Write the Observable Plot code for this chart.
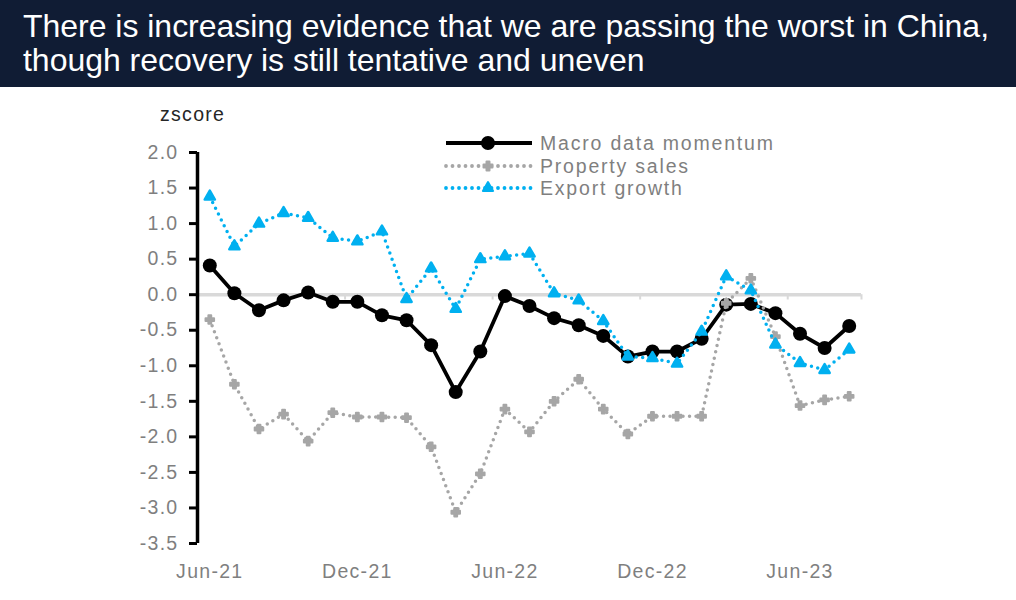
<!DOCTYPE html>
<html><head><meta charset="utf-8">
<script src="https://cdn.jsdelivr.net/npm/d3@7"></script>
<script src="https://cdn.jsdelivr.net/npm/@observablehq/plot@0.6"></script>
<style>
body{margin:0;background:#fff;width:1016px;height:600px;overflow:hidden;position:relative;font-family:"Liberation Sans",Arial,sans-serif;}
#banner{position:absolute;left:0;top:0;width:1016px;height:87px;background:#101c34;}
#title{position:absolute;left:23px;top:9px;color:#fff;font-size:32px;line-height:34px;white-space:nowrap;}
#title span{display:block;}
#chart{position:absolute;left:0;top:87px;}
#zlabel{position:absolute;left:160px;top:104px;font-size:19.5px;line-height:20px;color:#262626;letter-spacing:1.3px;}
#legend{position:absolute;left:440px;top:130px;}
</style>
</head><body>
<div id="banner"><div id="title"><span id="t1">There is increasing evidence that we are passing the worst in China,</span><span id="t2">though recovery is still tentative and uneven</span></div></div>
<div id="zlabel">zscore</div>
<div id="chart"></div>
<div id="legend"></div>
<script>
const months = ["Jun-21","Jul-21","Aug-21","Sep-21","Oct-21","Nov-21","Dec-21","Jan-22","Feb-22","Mar-22","Apr-22","May-22","Jun-22","Jul-22","Aug-22","Sep-22","Oct-22","Nov-22","Dec-22","Jan-23","Feb-23","Mar-23","Apr-23","May-23","Jun-23","Jul-23","Aug-23"];
const macroMomentum = [0.41,0.02,-0.22,-0.08,0.03,-0.10,-0.10,-0.29,-0.36,-0.71,-1.37,-0.80,-0.02,-0.16,-0.33,-0.43,-0.58,-0.87,-0.80,-0.80,-0.62,-0.14,-0.13,-0.26,-0.55,-0.75,-0.44];
const propertySales = [-0.35,-1.26,-1.89,-1.68,-2.06,-1.66,-1.72,-1.72,-1.73,-2.14,-3.06,-2.52,-1.61,-1.93,-1.50,-1.19,-1.61,-1.96,-1.71,-1.71,-1.71,-0.12,0.23,-0.59,-1.56,-1.48,-1.43];
const exportGrowth = [1.38,0.68,1.00,1.15,1.08,0.80,0.75,0.89,-0.06,0.37,-0.20,0.50,0.54,0.58,0.02,-0.08,-0.37,-0.87,-0.89,-0.97,-0.52,0.26,0.06,-0.70,-0.96,-1.06,-0.77];
const xTickLabels = ["Jun-21","Dec-21","Jun-22","Dec-22","Jun-23"];
const yTicks = [2.0,1.5,1.0,0.5,0.0,-0.5,-1.0,-1.5,-2.0,-2.5,-3.0,-3.5];
const seriesNames = ["Macro data momentum","Property sales","Export growth"];
const seriesColors = ["#000000","#a6a6a6","#00b0f0"];

const rows = (vals) => vals.map((v, i) => ({i, month: months[i], v}));
const macroRows = rows(macroMomentum), propRows = rows(propertySales), expRows = rows(exportGrowth);
const xIdx = xTickLabels.map(l => months.indexOf(l));
const boundaries = xIdx.slice(1).map(i => i - 0.5).concat([months.length - 0.5]);
const xMin = -0.5, xMax = months.length - 0.5;

const chart = Plot.plot({
  width: 1016, height: 513,
  marginTop: 65, marginBottom: 57, marginLeft: 197, marginRight: 155,
  style: {fontFamily: '"Liberation Sans", Arial, sans-serif', fontSize: "19.5px", letterSpacing: "1.3px", background: "transparent", overflow: "visible"},
  x: {domain: [xMin, xMax]},
  y: {domain: [d3.min(yTicks), d3.max(yTicks)]},
  marks: [
    Plot.ruleY([0], {x1: xMin, x2: xMax, stroke: "#d9d9d9", strokeWidth: 3.5}),
    Plot.ruleX(boundaries, {y1: 0, y2: -0.075, stroke: "#d9d9d9", strokeWidth: 2}),
    Plot.ruleX([xMin], {y1: d3.min(yTicks), y2: d3.max(yTicks), stroke: "#000", strokeWidth: 3.5}),
    Plot.axisY(yTicks, {tickSize: 8, tickPadding: 11, strokeWidth: 3, stroke: "#000", fill: "#7f7f7f", tickFormat: d => d.toFixed(1), label: null}),
    Plot.axisX(xIdx, {tickSize: 0, tickPadding: 21, fill: "#7f7f7f", tickFormat: i => months[i], label: null}),
    Plot.line(macroRows, {x: "i", y: "v", stroke: seriesColors[0], strokeWidth: 3.8}),
    Plot.dot(macroRows, {x: "i", y: "v", r: 7, fill: seriesColors[0], stroke: null}),
    Plot.line(propRows, {x: "i", y: "v", stroke: seriesColors[1], strokeWidth: 3.5, strokeDasharray: "0 6.5", strokeLinecap: "round"}),
    Plot.dot(propRows, {x: "i", y: "v", symbol: "cross", r: 3.6, fill: seriesColors[1], stroke: seriesColors[1], strokeWidth: 2, strokeLinejoin: "round"}),
    Plot.line(expRows, {x: "i", y: "v", stroke: seriesColors[2], strokeWidth: 3.5, strokeDasharray: "0 6.5", strokeLinecap: "round"}),
    Plot.dot(expRows, {x: "i", y: "v", symbol: "triangle", r: 3.8, fill: seriesColors[2], stroke: seriesColors[2], strokeWidth: 2.5, strokeLinejoin: "round"})
  ]
});
document.getElementById("chart").appendChild(chart);

// legend
const lg = d3.select("#legend").append("svg").attr("width", 420).attr("height", 80)
  .style("font-family", '"Liberation Sans", Arial, sans-serif').style("font-size", "19.5px");
const rowY = [13, 36, 58];
const sym = [d3.symbolCircle, d3.symbolCross, d3.symbolTriangle];
seriesNames.forEach((name, k) => {
  const g = lg.append("g").attr("transform", `translate(0,${rowY[k]})`);
  const ln = g.append("line").attr("x1", 6).attr("x2", 92).attr("y1", 0).attr("y2", 0)
    .attr("stroke", seriesColors[k]).attr("stroke-width", 3.8);
  if (k > 0) ln.attr("stroke-dasharray", "0 6.5").attr("stroke-linecap", "round");
  g.append("path").attr("transform", "translate(48,0)")
    .attr("d", d3.symbol(sym[k], k === 0 ? 154 : 45)())
    .attr("fill", seriesColors[k]).attr("stroke", k === 0 ? "none" : seriesColors[k])
    .attr("stroke-width", 2).attr("stroke-linejoin", "round");
  g.append("text").attr("x", 100).attr("dy", "0.35em").attr("fill", "#7f7f7f")
    .attr("letter-spacing", "1.8px").text(name);
});

// fit title width
const t1 = document.getElementById("t1");
const w = t1.getBoundingClientRect().width;
const ls = (966 - w) / t1.textContent.length;
document.getElementById("title").style.letterSpacing = ls + "px";
</script>
</body></html>
